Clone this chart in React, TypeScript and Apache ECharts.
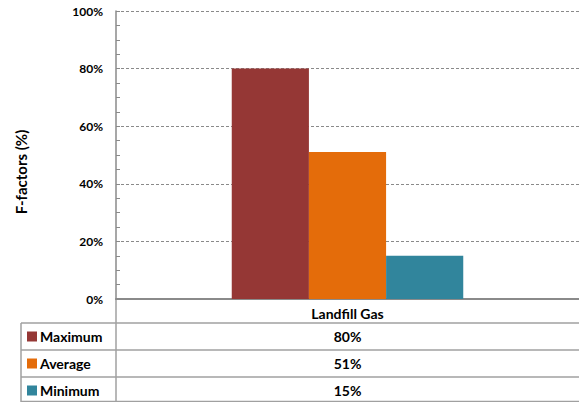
import React, { useEffect, useRef } from "react";
import * as echarts from "echarts";

const categories = ["Landfill Gas"];
const seriesNames = ["Maximum", "Average", "Minimum"];
const maximumValues = [80];
const averageValues = [51];
const minimumValues = [15];
const seriesColors = ["#953735", "#E46C0A", "#31859C"];
const yTicks = [0, 20, 40, 60, 80, 100];

const FONT = "Lato, 'Open Sans', sans-serif";
const W = 579;
const H = 402;
const GRID_LEFT = 116;
const GRID_TOP = 11;
const AXIS_Y = 299;
const TABLE_LEFT = 21;
const ROW_TOPS = [323, 350, 377];
const ROW_H = 27;

export default function App() {
  const ref = useRef<HTMLDivElement>(null);
  useEffect(() => {
    if (!ref.current) return;
    const chart = echarts.init(ref.current, null, { renderer: "svg" });
    const seriesData = [maximumValues, averageValues, minimumValues];
    chart.setOption({
      animation: false,
      backgroundColor: "#ffffff",
      grid: { left: GRID_LEFT, top: GRID_TOP, right: -5, bottom: H - AXIS_Y, containLabel: false },
      xAxis: {
        type: "category",
        data: categories,
        axisLine: { lineStyle: { color: "#8a8a8a", width: 2 } },
        axisTick: { show: false },
        axisLabel: {
          color: "#000",
          fontFamily: FONT,
          fontWeight: "bold",
          fontSize: 14,
          margin: 7,
        },
      },
      yAxis: {
        type: "value",
        min: 0,
        max: 100,
        interval: 20,
        axisLine: { show: true, lineStyle: { color: "#8a8a8a", width: 1.5 } },
        axisTick: { show: true, inside: true, length: 4, lineStyle: { color: "#8a8a8a" } },
        minorTick: { show: true, splitNumber: 4, length: 4, lineStyle: { color: "#8a8a8a" } },
        splitLine: { show: true, lineStyle: { color: "#8a8a8a", type: [3, 2], width: 1 } },
        axisLabel: {
          color: "#000",
          fontFamily: FONT,
          fontWeight: "bold",
          fontSize: 12,
          margin: 13,
          formatter: (v: number) => (yTicks.includes(v) ? `${v}%` : ""),
        },
      },
      series: seriesNames.map((name, i) => ({
        name,
        type: "bar",
        data: seriesData[i],
        barGap: "0%",
        barCategoryGap: "50%",
        itemStyle: { color: seriesColors[i] },
      })),
    });

    const xCenter = chart.convertToPixel({ xAxisIndex: 0 }, categories[0]) as number;
    const lineStyle = { stroke: "#a0a0a0", lineWidth: 1.5 };
    const graphics: any[] = [];
    graphics.push({ type: "line", shape: { x1: TABLE_LEFT, y1: ROW_TOPS[0], x2: TABLE_LEFT, y2: H }, style: lineStyle });
    graphics.push({ type: "line", shape: { x1: GRID_LEFT, y1: AXIS_Y, x2: GRID_LEFT, y2: H }, style: lineStyle });
    ROW_TOPS.forEach((y) => {
      graphics.push({ type: "line", shape: { x1: TABLE_LEFT, y1: y, x2: W, y2: y }, style: lineStyle });
    });
    graphics.push({ type: "line", shape: { x1: TABLE_LEFT, y1: H - 0.5, x2: W, y2: H - 0.5 }, style: lineStyle });
    seriesNames.forEach((name, i) => {
      const yMid = ROW_TOPS[i] + ROW_H / 2;
      graphics.push({ type: "rect", shape: { x: 27, y: yMid - 5, width: 10, height: 10 }, style: { fill: seriesColors[i] } });
      graphics.push({
        type: "text",
        x: 40,
        y: yMid,
        style: { text: name, fill: "#000", font: `bold 14px ${FONT}`, textVerticalAlign: "middle", textAlign: "left" },
      });
      graphics.push({
        type: "text",
        x: xCenter,
        y: yMid,
        style: {
          text: `${seriesData[i][0]}%`,
          fill: "#000",
          font: `bold 14px ${FONT}`,
          textVerticalAlign: "middle",
          textAlign: "center",
        },
      });
    });
    graphics.push({
      type: "text",
      x: 21,
      y: 172,
      rotation: Math.PI / 2,
      style: { text: "F-factors (%)", fill: "#000", font: `bold 15px ${FONT}`, textAlign: "center", textVerticalAlign: "middle" },
    });
    chart.setOption({ graphic: graphics });
    return () => chart.dispose();
  }, []);
  return <div ref={ref} style={{ position: "absolute", left: 0, top: 0, width: W, height: H }} />;
}
